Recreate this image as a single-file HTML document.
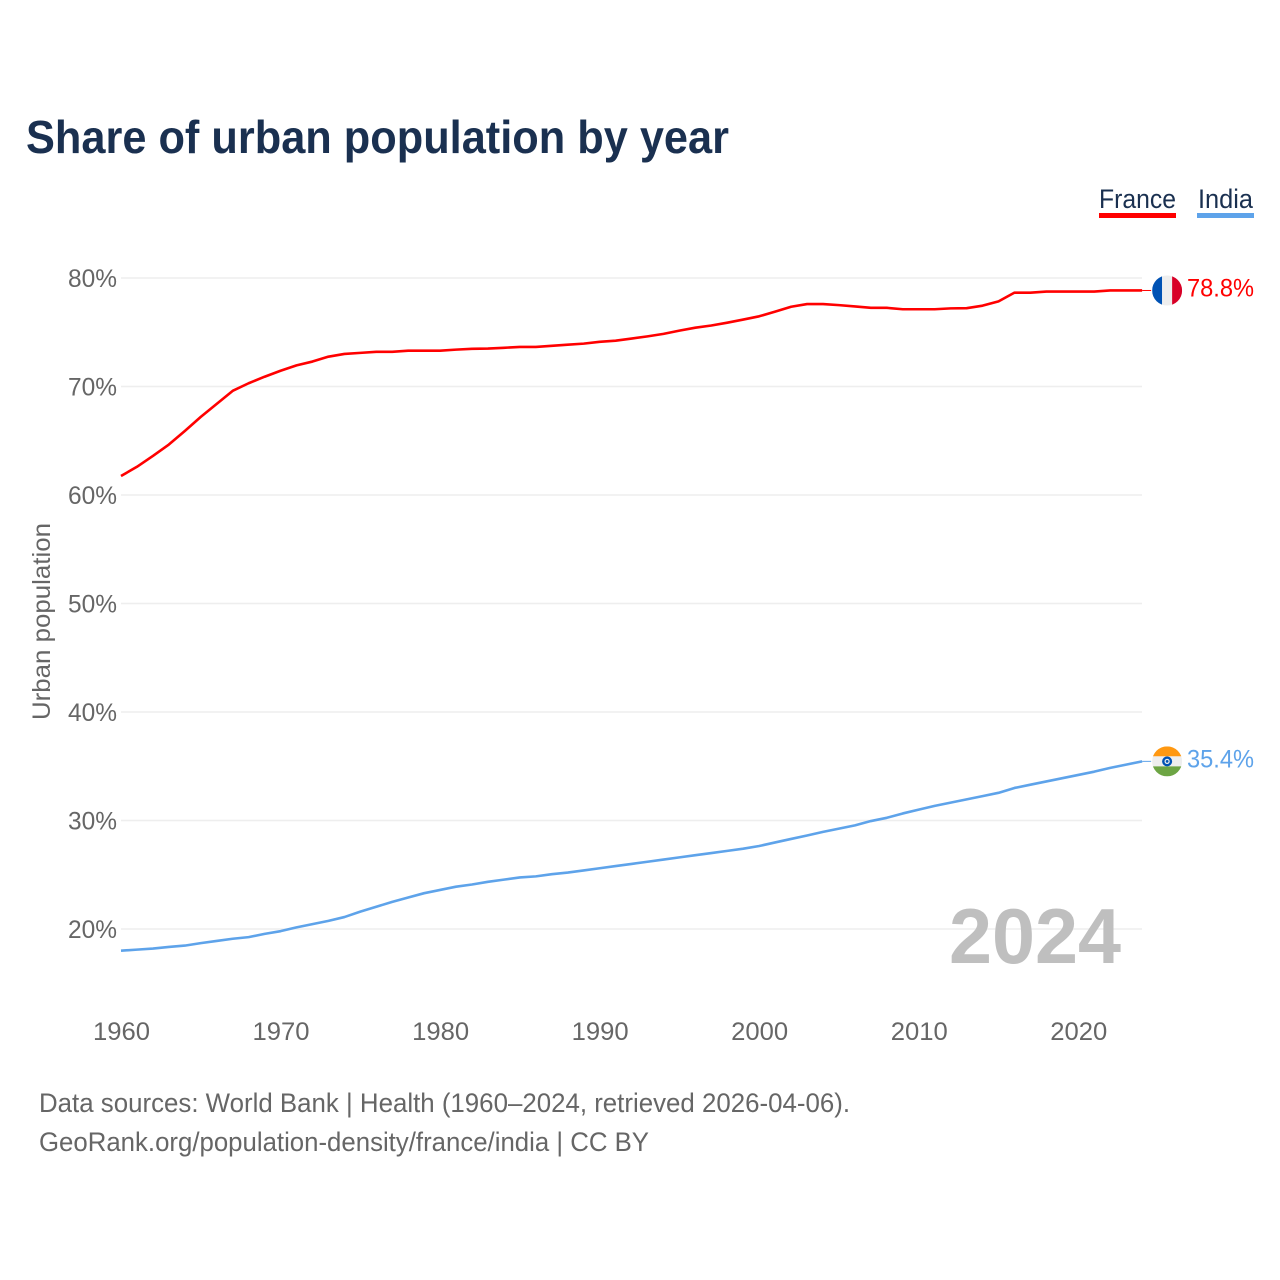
<!DOCTYPE html>
<html lang="en">
<head>
<meta charset="utf-8">
<title>Share of urban population by year</title>
<style>
html,body{margin:0;padding:0;background:#fff;width:1280px;height:1280px;overflow:hidden}
svg{display:block;font-family:"Liberation Sans",sans-serif}
</style>
</head>
<body>
<svg id="chart" xmlns="http://www.w3.org/2000/svg" width="1280" height="1280" viewBox="0 0 1280 1280">
  <rect x="0" y="0" width="1280" height="1280" fill="#ffffff"/>
  <text x="26" y="153" font-size="46" font-weight="700" fill="#1a3050" textLength="703" lengthAdjust="spacingAndGlyphs">Share of urban population by year</text>

  <g>
    <g>
      <text x="1099" y="208" font-size="27" fill="#1a3050" textLength="77" lengthAdjust="spacingAndGlyphs">France</text>
      <rect x="1099" y="213" width="77" height="5" fill="#ff0000"/>
    </g>
    <g>
      <text x="1198" y="208" font-size="27" fill="#1a3050" textLength="55" lengthAdjust="spacingAndGlyphs">India</text>
      <rect x="1197" y="213" width="57" height="5" fill="#5ea3ea"/>
    </g>
  </g>

  <g id="grid"></g>
  <g id="yticks"></g>
  <g id="xticks"></g>
  <text transform="translate(50,720) rotate(-90)" font-size="25" fill="#666666" textLength="197" lengthAdjust="spacingAndGlyphs">Urban population</text>
  <text x="949" y="963" font-size="78" font-weight="700" fill="#bfbfbf" textLength="172" lengthAdjust="spacingAndGlyphs">2024</text>
  <g id="series"></g>
  <g id="ends"></g>

  <text x="39" y="1112" font-size="26.5" fill="#666666" textLength="811" lengthAdjust="spacingAndGlyphs">Data sources: World Bank | Health (1960–2024, retrieved 2026-04-06).</text>
  <text x="39" y="1151" font-size="26.5" fill="#666666" textLength="610" lengthAdjust="spacingAndGlyphs">GeoRank.org/population-density/france/india | CC BY</text>
</svg>
<script>
var years = [1960,1961,1962,1963,1964,1965,1966,1967,1968,1969,1970,1971,1972,1973,1974,1975,1976,1977,1978,1979,1980,1981,1982,1983,1984,1985,1986,1987,1988,1989,1990,1991,1992,1993,1994,1995,1996,1997,1998,1999,2000,2001,2002,2003,2004,2005,2006,2007,2008,2009,2010,2011,2012,2013,2014,2015,2016,2017,2018,2019,2020,2021,2022,2023,2024];
var franceValues = [61.75,62.6,63.6,64.65,65.9,67.2,68.4,69.6,70.3,70.9,71.45,71.95,72.3,72.75,73,73.1,73.2,73.2,73.3,73.3,73.3,73.4,73.47,73.5,73.57,73.65,73.65,73.75,73.85,73.95,74.12,74.22,74.42,74.62,74.85,75.15,75.42,75.62,75.88,76.17,76.47,76.9,77.35,77.6,77.6,77.5,77.38,77.25,77.25,77.12,77.12,77.12,77.2,77.22,77.45,77.85,78.65,78.65,78.75,78.75,78.75,78.75,78.85,78.85,78.85];
var indiaValues = [18,18.1,18.2,18.35,18.47,18.7,18.9,19.1,19.25,19.55,19.8,20.15,20.45,20.75,21.1,21.6,22.05,22.5,22.9,23.3,23.6,23.9,24.1,24.35,24.55,24.75,24.85,25.05,25.2,25.4,25.6,25.8,26,26.2,26.4,26.6,26.8,27,27.2,27.4,27.65,27.98,28.3,28.62,28.95,29.25,29.55,29.95,30.25,30.65,31,31.35,31.65,31.95,32.25,32.55,33,33.3,33.6,33.9,34.2,34.5,34.85,35.15,35.45];
var yTickValues = [20,30,40,50,60,70,80];
var xTickYears = [1960,1970,1980,1990,2000,2010,2020];
var latestLabels = ["78.8%","35.4%"];

var NS = 'http://www.w3.org/2000/svg';
function xScale(year){ return 121 + (year - 1960) * 15.955; }
function yScale(v){ return 929 - (v - 20) * 10.85; }
function make(tag, attrs, parent){
  var el = document.createElementNS(NS, tag);
  for (var k in attrs) el.setAttribute(k, attrs[k]);
  parent.appendChild(el);
  return el;
}

var grid = document.getElementById('grid');
var yticks = document.getElementById('yticks');
var xticks = document.getElementById('xticks');
var series = document.getElementById('series');
var ends = document.getElementById('ends');

yTickValues.forEach(function(v){
  var line = make('line', {x1:121, x2:1142, y1:yScale(v), y2:yScale(v), stroke:'#eeeeee', 'stroke-width':1.4}, grid);
  
  
  var t = make('text', {x:68, y:yScale(v)+9, 'font-size':25, fill:'#666666', textLength:49, lengthAdjust:'spacingAndGlyphs'}, yticks);
  
  
  t.textContent = v + '%';
});

xTickYears.forEach(function(y){
  var t = make('text', {x:xScale(y)-28, y:1040, 'font-size':25, fill:'#666666', textLength:57, lengthAdjust:'spacingAndGlyphs'}, xticks);
  
  
  t.textContent = y;
});

function pathFor(values){
  return values.map(function(v, i){
    return (i ? 'L' : 'M') + xScale(years[i]).toFixed(2) + ' ' + yScale(v).toFixed(2);
  }).join(' ');
}

var franceLine = make('path', {d:pathFor(franceValues), fill:'none', stroke:'#ff0000', 'stroke-width':2.6, 'stroke-linejoin':'round'}, series);



var indiaLine = make('path', {d:pathFor(indiaValues), fill:'none', stroke:'#5ea3ea', 'stroke-width':2.6, 'stroke-linejoin':'round'}, series);



var lastX = xScale(years[years.length - 1]);
var cx = lastX + 25;

/* France end marker */
var fy = yScale(franceValues[franceValues.length - 1]);
var fLeader = make('line', {x1:lastX, x2:lastX + 9, y1:fy, y2:fy, stroke:'#ff0000', 'stroke-width':1}, ends);


var fFlag = make('g', {}, ends);


var fClip = make('clipPath', {id:'clip-france'}, fFlag);
make('circle', {cx:cx, cy:fy, r:15}, fClip);
var fBody = make('g', {'clip-path':'url(#clip-france)'}, fFlag);
make('rect', {x:cx-15, y:fy-15, width:10, height:30, fill:'#0052b4'}, fBody);
make('rect', {x:cx-5, y:fy-15, width:10, height:30, fill:'#eeeeee'}, fBody);
make('rect', {x:cx+5, y:fy-15, width:10, height:30, fill:'#d80027'}, fBody);
var fLabel = make('text', {x:1187, y:fy+6, 'font-size':25, fill:'#ff0000', textLength:67, lengthAdjust:'spacingAndGlyphs'}, ends);


fLabel.textContent = latestLabels[0];

/* India end marker */
var iy = yScale(indiaValues[indiaValues.length - 1]);
var iLeader = make('line', {x1:lastX, x2:lastX + 9, y1:iy, y2:iy, stroke:'#5ea3ea', 'stroke-width':1}, ends);


var iFlag = make('g', {}, ends);


var iClip = make('clipPath', {id:'clip-india'}, iFlag);
make('circle', {cx:cx, cy:iy, r:15}, iClip);
var iBody = make('g', {'clip-path':'url(#clip-india)'}, iFlag);
make('rect', {x:cx-15, y:iy-15, width:30, height:10, fill:'#ff9811'}, iBody);
make('rect', {x:cx-15, y:iy-5, width:30, height:10, fill:'#eeeeee'}, iBody);
make('rect', {x:cx-15, y:iy+5, width:30, height:10, fill:'#6da544'}, iBody);
make('circle', {cx:cx, cy:iy, r:5, fill:'#0052b4'}, iBody);
make('circle', {cx:cx, cy:iy, r:2.6, fill:'#eeeeee'}, iBody);
make('circle', {cx:cx, cy:iy, r:1.4, fill:'#0052b4'}, iBody);
var iLabel = make('text', {x:1187, y:iy+6, 'font-size':25, fill:'#5ea3ea', textLength:67, lengthAdjust:'spacingAndGlyphs'}, ends);


iLabel.textContent = latestLabels[1];
</script>
</body>
</html>
